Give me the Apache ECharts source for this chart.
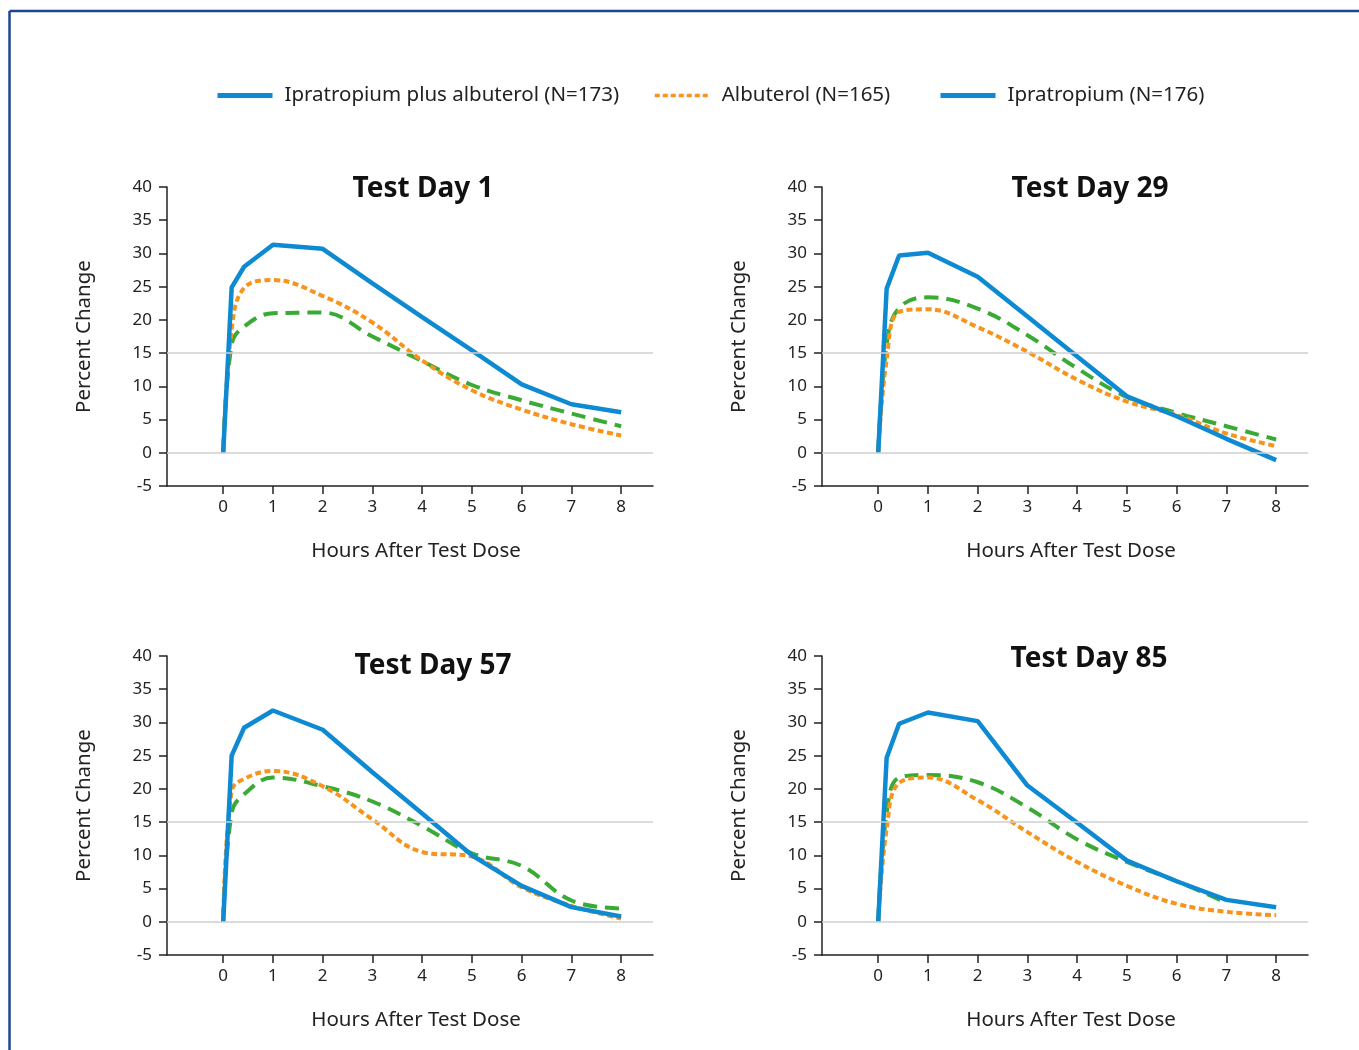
<!DOCTYPE html>
<html>
<head>
<meta charset="utf-8">
<script src="https://cdn.jsdelivr.net/npm/echarts@6/dist/echarts.min.js"></script>
<style>
html,body{margin:0;padding:0;background:#fff;}
#chart{width:1359px;height:1050px;}
</style>
</head>
<body>
<div id="chart"></div>
<script>
// ---- data ----
var hours = [0, 0.17, 0.42, 1, 2, 3, 4, 5, 6, 7, 8];
var tickHours = [0, 1, 2, 3, 4, 5, 6, 7, 8];
var seriesNames = ['Ipratropium plus albuterol (N=173)', 'Albuterol (N=165)', 'Ipratropium (N=176)'];
var panelTitles = ['Test Day 1', 'Test Day 29', 'Test Day 57', 'Test Day 85'];

var combo1 = [0, 24.9, 28.0, 31.3, 30.7, 25.5, 20.4, 15.4, 10.3, 7.3, 6.1];
var albut1 = [0, 18.5, 24.8, 26.0, 23.6, 19.6, 13.9, 9.4, 6.5, 4.3, 2.6];
var iprat1 = [0, 16.3, 19.0, 21.0, 21.1, 17.5, 13.8, 10.2, 7.9, 5.9, 4.0];

var combo29 = [0, 24.7, 29.7, 30.1, 26.5, 20.5, 14.5, 8.5, 5.5, 2.1, -1.1];
var albut29 = [0, 14.0, 21.2, 21.6, 18.9, 15.2, 11.0, 7.7, 5.7, 2.9, 1.0];
var iprat29 = [0, 16.4, 21.8, 23.4, 21.7, 17.7, 12.7, 8.4, 6.0, 4.0, 2.0];

var combo57 = [0, 25.0, 29.2, 31.8, 28.9, 22.5, 16.3, 10.0, 5.4, 2.2, 0.8];
var albut57 = [0, 19.7, 21.5, 22.7, 20.4, 15.4, 10.5, 9.8, 5.2, 2.4, 0.5];
var iprat57 = [0, 16.4, 19.2, 21.7, 20.4, 18.1, 14.4, 10.3, 8.4, 3.2, 2.0];

var combo85 = [0, 24.7, 29.8, 31.5, 30.2, 20.5, 14.9, 9.2, 6.1, 3.3, 2.2];
var albut85 = [0, 14.0, 20.9, 21.7, 18.3, 13.5, 9.0, 5.4, 2.7, 1.5, 1.0];
var iprat85 = [0, 16.4, 21.7, 22.1, 21.0, 17.2, 12.4, 9.0, 6.1, 2.9, null];

var refLines = [15, 0];

// ---- styling / layout ----
var FONT = '"Noto Sans", Lato, sans-serif';
var BLUE = '#0e8ad3', ORANGE = '#f7941d', GREEN = '#3aaa35', INK = '#222222';
var panels = [
  {combo: combo1, albut: albut1, iprat: iprat1, left: 167, top: 187, tx: 423, ty: 175},
  {combo: combo29, albut: albut29, iprat: iprat29, left: 822, top: 187, tx: 1090, ty: 175},
  {combo: combo57, albut: albut57, iprat: iprat57, left: 167, top: 656, tx: 433, ty: 652},
  {combo: combo85, albut: albut85, iprat: iprat85, left: 822, top: 656, tx: 1089, ty: 645}
];
var legendLefts = [215, 653, 938];

function pairs(xs, ys) {
  var out = [];
  for (var i = 0; i < xs.length; i++) out.push([xs[i], ys[i]]);
  return out;
}

var grids = [], xAxes = [], yAxes = [], titles = [], series = [];
panels.forEach(function (p, i) {
  grids.push({left: p.left, top: p.top, width: 486, height: 299, containLabel: false});
  titles.push({
    text: panelTitles[i], left: p.tx, top: p.ty, textAlign: 'center', padding: 0,
    textStyle: {fontFamily: FONT, fontSize: 28, fontWeight: 'bold', color: '#111'}
  });
  xAxes.push({
    gridIndex: i, type: 'value', min: -1.13, max: 8.64,
    axisLine: {show: true, onZero: false, lineStyle: {color: INK, width: 1.5}},
    axisTick: {show: true, customValues: tickHours, length: 8, lineStyle: {color: INK, width: 1.5}},
    axisLabel: {customValues: tickHours, fontFamily: FONT, fontSize: 17, color: INK, margin: 13},
    splitLine: {show: false},
    name: 'Hours After Test Dose', nameLocation: 'middle', nameGap: 55,
    nameTextStyle: {fontFamily: FONT, fontSize: 20.5, color: INK, padding: [0, 0, 0, 12]}
  });
  yAxes.push({
    gridIndex: i, type: 'value', min: -5, max: 40, interval: 5,
    axisLine: {show: true, onZero: false, lineStyle: {color: INK, width: 1.5}},
    axisTick: {show: true, length: 8, lineStyle: {color: INK, width: 1.5}},
    axisLabel: {fontFamily: FONT, fontSize: 17, color: INK, margin: 15},
    splitLine: {show: false},
    name: 'Percent Change', nameLocation: 'middle', nameGap: 72,
    nameTextStyle: {fontFamily: FONT, fontSize: 20.5, color: INK}
  });
  series.push({
    type: 'line', xAxisIndex: i, yAxisIndex: i, data: [], z: 1, silent: true,
    markLine: {
      silent: true, symbol: ['none', 'none'], label: {show: false},
      lineStyle: {color: '#cfcfcf', width: 1.5, type: 'solid'},
      data: refLines.map(function (v) { return {yAxis: v}; })
    }
  });
  series.push({
    name: seriesNames[2], type: 'line', xAxisIndex: i, yAxisIndex: i, z: 2,
    data: pairs(hours, p.iprat), smooth: 0.4, symbol: 'none',
    lineStyle: {color: GREEN, width: 4, type: [14, 8]}, itemStyle: {color: GREEN}
  });
  series.push({
    name: seriesNames[1], type: 'line', xAxisIndex: i, yAxisIndex: i, z: 3,
    data: pairs(hours, p.albut), smooth: 0.4, symbol: 'none',
    lineStyle: {color: ORANGE, width: 4, type: [6, 3.5]}, itemStyle: {color: ORANGE}
  });
  series.push({
    name: seriesNames[0], type: 'line', xAxisIndex: i, yAxisIndex: i, z: 4,
    data: pairs(hours, p.combo), symbol: 'none',
    lineStyle: {color: BLUE, width: 4.5, type: 'solid'}, itemStyle: {color: BLUE}
  });
});

var legendLine = [
  {color: BLUE, type: 'solid', width: 5},
  {color: ORANGE, type: [5, 3], width: 3.5},
  {color: BLUE, type: 'solid', width: 5}
];
var legends = seriesNames.map(function (n, k) {
  return {
    left: legendLefts[k], top: 85, padding: 0, itemWidth: 55, itemHeight: 12,
    selectedMode: false,
    textStyle: {fontFamily: FONT, fontSize: 20.5, color: INK, padding: [0, 0, 0, 7]},
    data: [{name: n, itemStyle: {opacity: 0}, lineStyle: legendLine[k]}]
  };
});

var chart = echarts.init(document.getElementById('chart'), null, {renderer: 'canvas'});
chart.setOption({
  backgroundColor: '#ffffff',
  animation: false,
  title: titles,
  legend: legends,
  grid: grids,
  xAxis: xAxes,
  yAxis: yAxes,
  series: series,
  graphic: [
    {type: 'line', shape: {x1: 9.5, y1: 11, x2: 1359, y2: 11}, style: {stroke: '#1e4496', lineWidth: 2.5}},
    {type: 'line', shape: {x1: 9.5, y1: 11, x2: 9.5, y2: 1050}, style: {stroke: '#1e4496', lineWidth: 2.5}}
  ]
});
</script>
</body>
</html>
